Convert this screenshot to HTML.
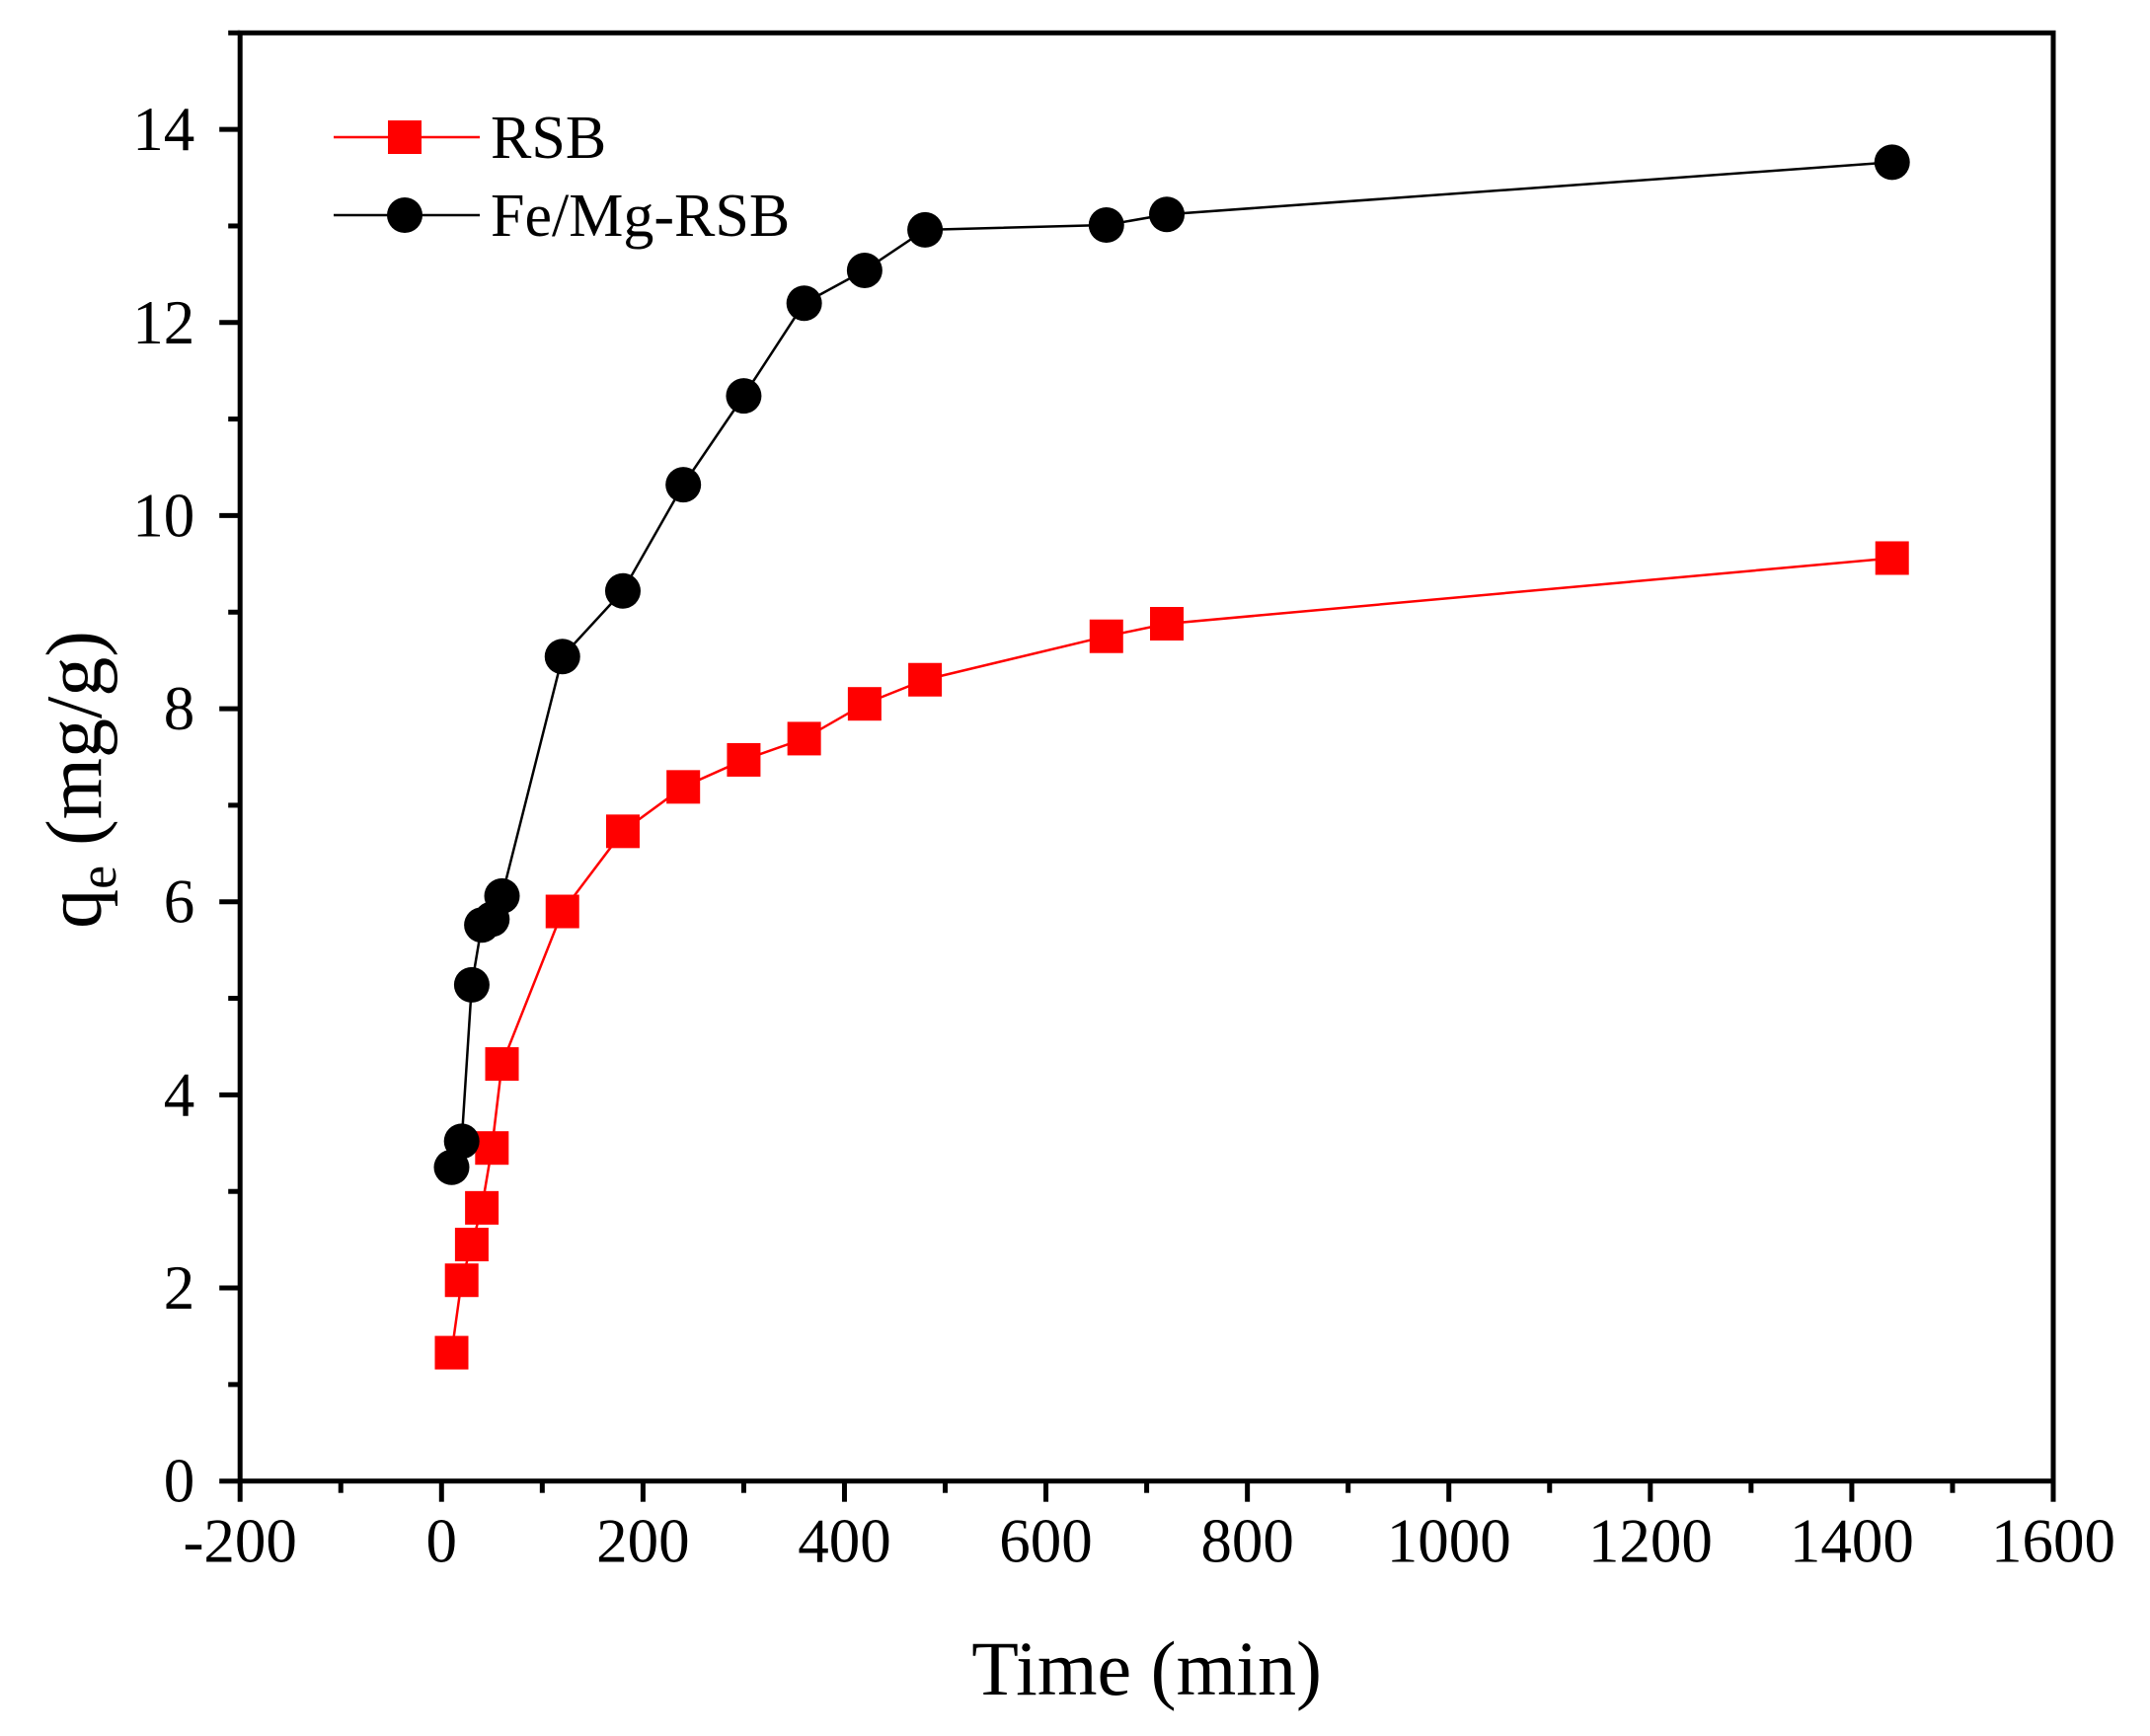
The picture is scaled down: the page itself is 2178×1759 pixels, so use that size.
<!DOCTYPE html>
<html><head><meta charset="utf-8"><style>
html,body{margin:0;padding:0;background:#fff;}
svg{display:block;font-family:"Liberation Serif",serif;}
</style></head><body>
<svg id="chart" width="2178" height="1759" viewBox="0 0 2178 1759" xmlns="http://www.w3.org/2000/svg">
<g id="axes"></g>
<g id="series"></g>
<g id="legend"></g>
</svg>
<script>
const times = [10,20,30,40,50,60,120,180,240,300,360,420,480,660,720,1440];
const rsbValues = [1.33,2.08,2.45,2.83,3.45,4.32,5.9,6.73,7.19,7.47,7.69,8.05,8.3,8.75,8.88,9.56];
const femgValues = [3.25,3.52,5.14,5.76,5.82,6.06,8.54,9.22,10.32,11.24,12.2,12.54,12.96,13.01,13.12,13.66];
const xTicks = [-200,0,200,400,600,800,1000,1200,1400,1600];
const yTicks = [0,2,4,6,8,10,12,14];

const NS="http://www.w3.org/2000/svg";
const L=243.2,R=2080,T=33.3,B=1500.7;
const xMin=-200,xMax=1600,yMin=0,yMax=15;
const sx=v=>L+(v-xMin)/(xMax-xMin)*(R-L);
const sy=v=>B-(v-yMin)/(yMax-yMin)*(B-T);
function mk(tag,attrs,parent){const e=document.createElementNS(NS,tag);for(const k in attrs)e.setAttribute(k,attrs[k]);parent.appendChild(e);return e;}
const axes=document.getElementById('axes'),series=document.getElementById('series'),legend=document.getElementById('legend');

let frame=mk('rect',{x:L,y:T,width:R-L,height:B-T,fill:'none',stroke:'#000','stroke-width':5},axes);



xTicks.forEach((v,i)=>{
  const x=sx(v);
  let t=mk('line',{x1:x,y1:B,x2:x,y2:B+21,stroke:'#000','stroke-width':5},axes);
  
  
  if(i<xTicks.length-1){
    const xm=sx(v+100);
    let m=mk('line',{x1:xm,y1:B,x2:xm,y2:B+12,stroke:'#000','stroke-width':5},axes);
    
    
  }
  let lb=mk('text',{x:x,y:B+82,'text-anchor':'middle','font-size':63},axes);
  lb.textContent=v;
  
  
});
yTicks.forEach((v,i)=>{
  const y=sy(v);
  let t=mk('line',{x1:L,y1:y,x2:L-21,y2:y,stroke:'#000','stroke-width':5},axes);
  
  
  const ym=sy(v+1);
  let m=mk('line',{x1:L,y1:ym,x2:L-12,y2:ym,stroke:'#000','stroke-width':5},axes);
  
  
  let lb=mk('text',{x:L-46,y:y+21,'text-anchor':'end','font-size':63},axes);
  lb.textContent=v;
  
  
});
let xt=mk('text',{x:(L+R)/2,y:1717,'text-anchor':'middle','font-size':78},axes);
xt.textContent='Time (min)';


let yt=mk('text',{x:0,y:0,'text-anchor':'middle','font-size':80,transform:'translate(102,790) rotate(-90)'},axes);
yt.innerHTML='q<tspan font-size="54" dy="15">e</tspan><tspan dy="-15"> (mg/g)</tspan>';



function drawSeries(vals,color,shape,name){
  const pts=times.map((t,i)=>sx(t)+','+sy(vals[i])).join(' ');
  let pl=mk('polyline',{points:pts,fill:'none',stroke:color,'stroke-width':2.5},series);
  
  
  times.forEach((t,i)=>{
    const x=sx(t),y=sy(vals[i]);
    let p;
    if(shape==='sq') p=mk('rect',{x:x-17,y:y-17,width:34,height:34,fill:color},series);
    else p=mk('circle',{cx:x,cy:y,r:18,fill:color},series);
    
    
  });
}
drawSeries(rsbValues,'#ff0000','sq','rsb');
drawSeries(femgValues,'#000000','ci','femg');

function legendEntry(y,color,shape,label,name){
  let g=mk('g',{},legend);
  
  
  mk('line',{x1:338,y1:y,x2:486,y2:y,stroke:color,'stroke-width':2.5},g);
  if(shape==='sq') mk('rect',{x:393,y:y-17,width:34,height:34,fill:color},g);
  else mk('circle',{cx:410,cy:y,r:18,fill:color},g);
  let t=mk('text',{x:497,y:y+21,'font-size':62},g);
  t.textContent=label;
}
legendEntry(139,'#ff0000','sq','RSB','legend-entry-rsb');
legendEntry(218,'#000000','ci','Fe/Mg-RSB','legend-entry-femg-rsb');
</script>
</body></html>
